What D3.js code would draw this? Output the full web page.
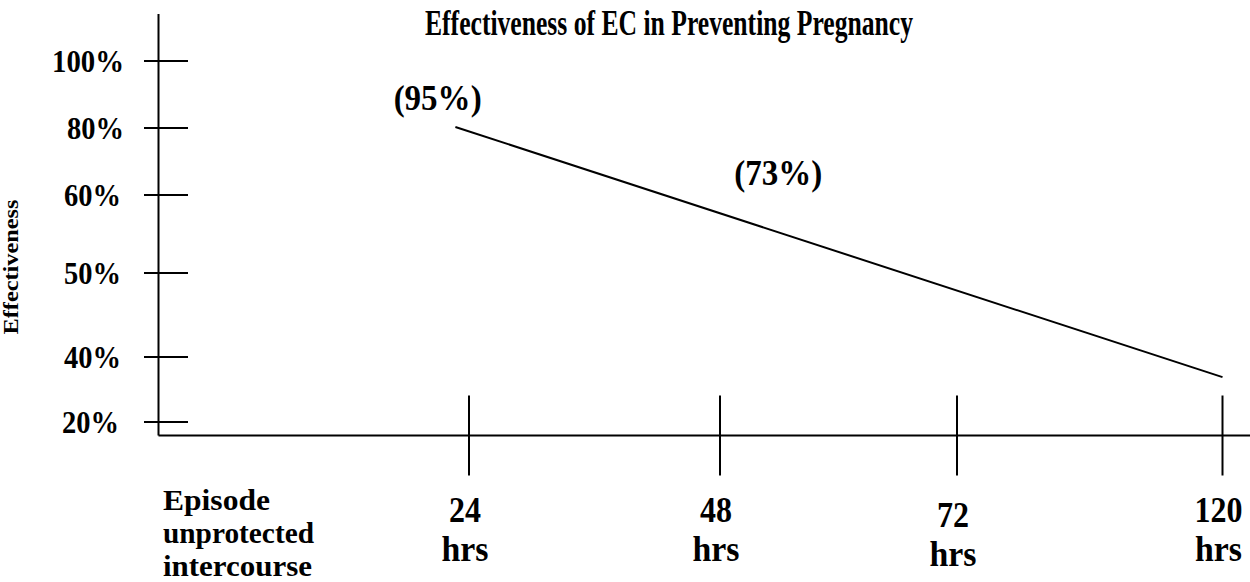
<!DOCTYPE html>
<html>
<head>
<meta charset="utf-8">
<script src="https://cdn.jsdelivr.net/npm/d3@7"></script>
<style>
  body { margin: 0; background: #fff; }
  text { font-family: "Liberation Serif", "Times New Roman", serif; font-weight: bold; fill: #000; }
</style>
</head>
<body>
<div id="chart"></div>
<script>
// data
const effTicks = [100, 80, 60, 50, 40, 20];
const effLabels = ["100%", "80%", "60%", "50%", "40%", "20%"];
const hourTicks = [24, 48, 72, 120];
const hourLabels = ["24", "48", "72", "120"];
const lineHours = [22.7, 120];
const lineEff = [80.3, 33.8];
const noteText = ["(95%)", "(73%)"];
const noteHours = [21, 53.9];
const noteEff = [85.4, 63];

const width = 1250;
const height = 582;

const svg = d3.select("#chart")
    .append("svg")
    .attr("width", width)
    .attr("height", height);

// the drawing is hand spaced, so both scales are piecewise
const x = d3.scaleLinear()
    .domain(hourTicks)
    .range([469, 720, 957, 1222.5]);

const y = d3.scaleLinear()
    .domain(effTicks)
    .range([61, 128, 195, 273, 357, 422]);

const axisX = 158.5;
const axisY = 435.5;

// text in the original is a bit stretched vertically, so fix widths
function squeeze(sel, w) {
    sel.attr("textLength", w).attr("lengthAdjust", "spacingAndGlyphs");
}

// title
svg.append("text")
    .attr("x", 669)
    .attr("y", 35)
    .attr("text-anchor", "middle")
    .attr("font-size", 36)
    .call(squeeze, 488)
    .text("Effectiveness of EC in Preventing Pregnancy");

// axis lines
svg.append("line")
    .attr("x1", axisX).attr("x2", axisX)
    .attr("y1", 14).attr("y2", axisY)
    .attr("stroke", "#000").attr("stroke-width", 2);

svg.append("line")
    .attr("x1", axisX).attr("x2", width)
    .attr("y1", axisY).attr("y2", axisY)
    .attr("stroke", "#000").attr("stroke-width", 2);

// y ticks + labels
svg.selectAll(".ytick")
    .data(effTicks)
    .enter()
    .append("line")
    .attr("class", "ytick")
    .attr("x1", axisX - 14.5)
    .attr("x2", axisX + 29.5)
    .attr("y1", d => y(d))
    .attr("y2", d => y(d))
    .attr("stroke", "#000")
    .attr("stroke-width", 2);

svg.selectAll(".ylabel")
    .data(effTicks)
    .enter()
    .append("text")
    .attr("class", "ylabel")
    .attr("x", (d, i) => i < 2 ? 124 : (i === 5 ? 119 : 121))
    .attr("y", d => y(d) + 11)
    .attr("text-anchor", "end")
    .attr("font-size", 31)
    .attr("textLength", (d, i) => i === 0 ? 72 : 57)
    .attr("lengthAdjust", "spacingAndGlyphs")
    .text((d, i) => effLabels[i]);

// y axis title
svg.append("text")
    .attr("transform", "translate(18,267) rotate(-90)")
    .attr("text-anchor", "middle")
    .attr("font-size", 20)
    .call(squeeze, 135)
    .text("Effectiveness");

// x ticks + labels
svg.selectAll(".xtick")
    .data(hourTicks)
    .enter()
    .append("line")
    .attr("class", "xtick")
    .attr("x1", d => x(d))
    .attr("x2", d => x(d))
    .attr("y1", axisY - 40)
    .attr("y2", axisY + 40)
    .attr("stroke", "#000")
    .attr("stroke-width", 2);

const xl = svg.selectAll(".xlabel")
    .data(hourTicks)
    .enter()
    .append("g")
    .attr("class", "xlabel")
    .attr("transform", d => `translate(${x(d) - 4},${d === 72 ? 527 : 522})`);

xl.append("text")
    .attr("text-anchor", "middle")
    .attr("font-size", 35)
    .attr("textLength", (d, i) => hourLabels[i].length * 16)
    .attr("lengthAdjust", "spacingAndGlyphs")
    .text((d, i) => hourLabels[i]);

xl.append("text")
    .attr("y", 39)
    .attr("text-anchor", "middle")
    .attr("font-size", 35)
    .call(squeeze, 47)
    .text("hrs");

// x axis caption
["Episode", "unprotected", "intercourse"].forEach((t, i) => {
    svg.append("text")
        .attr("x", 163)
        .attr("y", 510 + i * 33)
        .attr("font-size", 30)
        .call(squeeze, [107, 151, 149][i])
        .text(t);
});

// effectiveness line
const line = d3.line()
    .x(d => x(d[0]))
    .y(d => y(d[1]));

svg.append("path")
    .datum(lineHours.map((h, i) => [h, lineEff[i]]))
    .attr("d", line)
    .attr("fill", "none")
    .attr("stroke", "#000")
    .attr("stroke-width", 2);

// value notes
svg.selectAll(".note")
    .data(noteText)
    .enter()
    .append("text")
    .attr("class", "note")
    .attr("x", (d, i) => x(noteHours[i]))
    .attr("y", (d, i) => y(noteEff[i]))
    .attr("text-anchor", "middle")
    .attr("font-size", 35)
    .call(squeeze, 88)
    .text(d => d);
</script>
</body>
</html>
